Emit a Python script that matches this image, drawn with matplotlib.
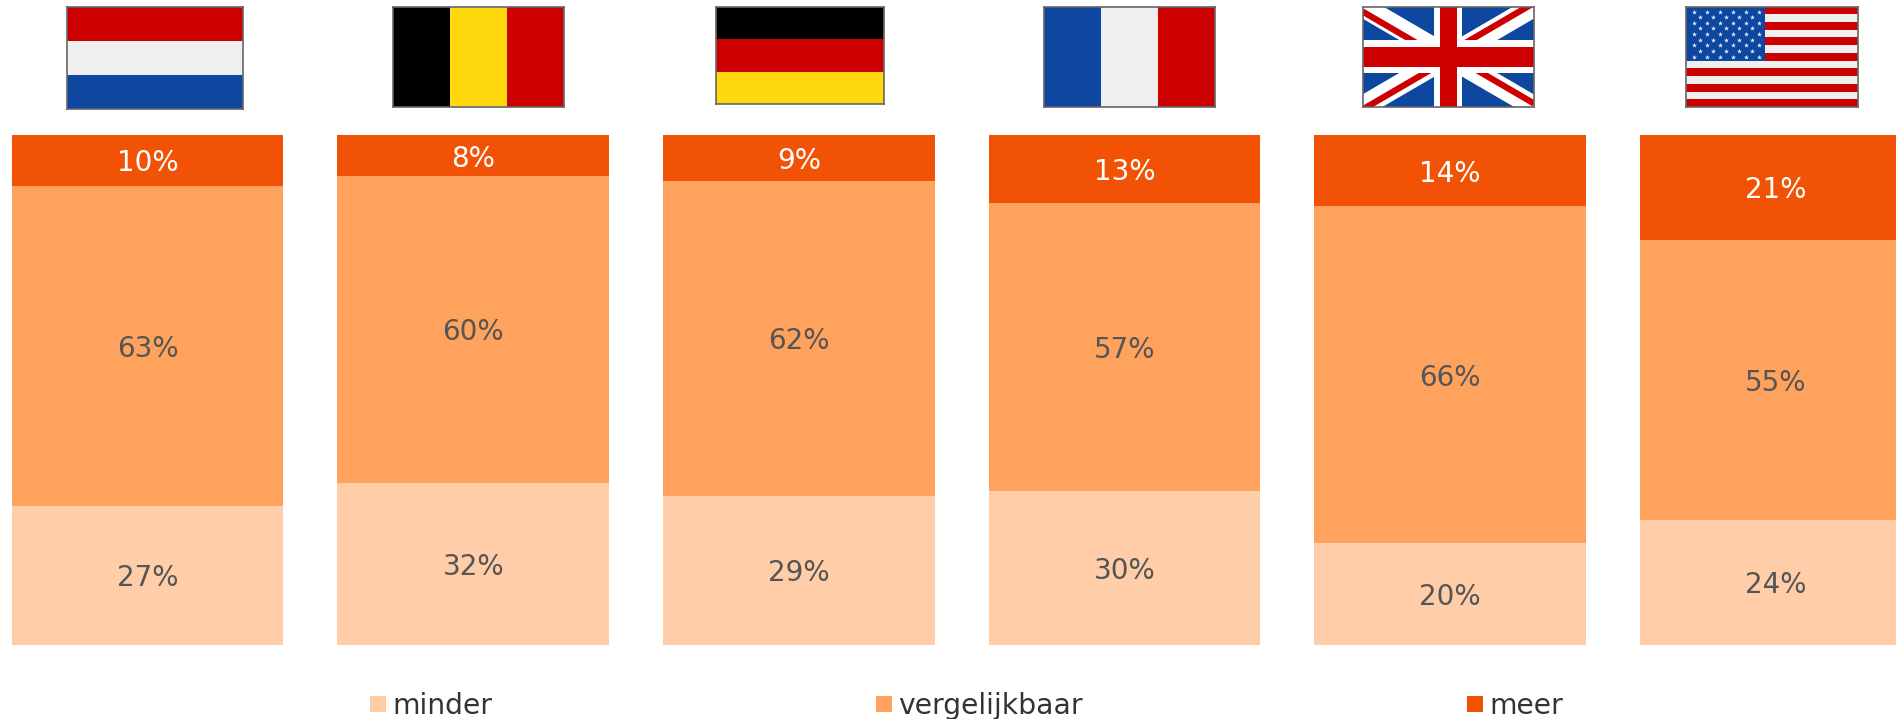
import matplotlib
matplotlib.use('Agg')
from matplotlib import pyplot as plt
from matplotlib.patches import Rectangle

# chart data (labels show them rounded)
countries = ['NL', 'BE', 'DE', 'FR', 'UK', 'US']
minder = [27.25, 31.75, 29.15, 30.1, 19.9, 24.4]
vergelijkbaar = [62.8, 60.2, 61.85, 56.63, 66.1, 55.0]
meer = [9.95, 8.05, 9.0, 13.27, 14.0, 20.6]
series_names = ['minder', 'vergelijkbaar', 'meer']

W, H = 1896, 719
LIGHT, MID, DARK = '#FFCDA8', '#FFA25E', '#F25205'
RED, WHITE, BLUE, YELLOW, BLACK = '#CC0000', '#EFEFEF', '#0E47A0', '#FFD80E', '#000000'


def px_axes(fig, x0, y0, x1, y1):
    # axes from pixel box, y measured from top
    return fig.add_axes([x0 / W, 1 - y1 / H, (x1 - x0) / W, (y1 - y0) / H])


fig = plt.figure(figsize=(W / 100, H / 100), dpi=100, facecolor='white')

# bars
ax = px_axes(fig, 0, 135, W, 644.5)
pitch = 325.6
ax.set_xlim(-147.6 / pitch, (W - 147.6) / pitch)
ax.set_ylim(0, 100)
ax.axis('off')

pos = range(len(countries))
bottoms2 = [a + b for a, b in zip(minder, vergelijkbaar)]
width = 271.5 / pitch
ax.bar(pos, minder, width, color=LIGHT)
ax.bar(pos, vergelijkbaar, width, bottom=minder, color=MID)
ax.bar(pos, meer, width, bottom=bottoms2, color=DARK)

for i in pos:
    for val, bot, col in [(minder[i], 0, '#555555'),
                          (vergelijkbaar[i], minder[i], '#555555'),
                          (meer[i], bottoms2[i], 'white')]:
        ax.annotate('%d%%' % round(val), (i, bot + val / 2.), xytext=(0, -3), textcoords='offset pixels',
                    ha='center', va='center', color=col, fontsize=20,
                    family='DejaVu Sans', annotation_clip=False)


# flags
def stripes(a, colors, vertical=False):
    n = len(colors)
    for k, c in enumerate(colors):
        if vertical:
            a.add_patch(Rectangle((k / n, 0), 1. / n, 1, color=c, lw=0))
        else:
            a.add_patch(Rectangle((0, k / n), 1, 1. / n, color=c, lw=0))


def union_jack(a):
    a.add_patch(Rectangle((0, 0), 1, 1, color=BLUE, lw=0))
    for xs, ys in [((0, 1), (0, 1)), ((0, 1), (1, 0))]:
        a.plot(xs, ys, color='white', lw=15, solid_capstyle='butt', zorder=1)
    # red diagonals, shifted off centre
    for xs, ys in [((0, .5), (.05, .55)), ((1, .5), (-.035, .465)),
                   ((0, .5), (1.03, .53)), ((1, .5), (.97, .47))]:
        a.plot(xs, ys, color=RED, lw=4.5, solid_capstyle='butt', zorder=1)
    a.add_patch(Rectangle((.418, 0), .164, 1, color='white', lw=0))
    a.add_patch(Rectangle((0, .335), 1, .33, color='white', lw=0))
    a.add_patch(Rectangle((.45, 0), .10, 1, color=RED, lw=0))
    a.add_patch(Rectangle((0, .40), 1, .20, color=RED, lw=0))


def stars_and_stripes(a):
    stripes(a, [RED if k % 2 == 0 else WHITE for k in range(13)])
    a.add_patch(Rectangle((0, 0), .463, 7 / 13., color=BLUE, lw=0))
    sx, sy = [], []
    for row in range(9):
        n = 6 if row % 2 == 0 else 5
        for c in range(n):
            sx.append(.047 + .0755 * c + (0 if row % 2 == 0 else .038))
            sy.append(.05 + .05625 * row)
    a.scatter(sx, sy, marker='*', s=14, color='#E4ECF8', lw=0)


flag_boxes = {'NL': (66.5, 6.5, 243, 109), 'BE': (392.5, 6.5, 564, 107), 'DE': (716, 6.5, 883.5, 104),
              'FR': (1043.5, 6.5, 1215, 106.5), 'UK': (1362.5, 6.5, 1534, 106.5), 'US': (1685.5, 6.5, 1857.5, 107)}

for c in countries:
    fa = px_axes(fig, *flag_boxes[c])
    fa.set_xlim(0, 1)
    fa.set_ylim(1, 0)
    fa.set_xticks([])
    fa.set_yticks([])
    if c == 'NL':
        stripes(fa, [RED, WHITE, BLUE])
    elif c == 'BE':
        stripes(fa, [BLACK, YELLOW, RED], vertical=True)
    elif c == 'DE':
        stripes(fa, [BLACK, RED, YELLOW])
    elif c == 'FR':
        stripes(fa, [BLUE, WHITE, RED], vertical=True)
    elif c == 'UK':
        union_jack(fa)
    else:
        stars_and_stripes(fa)
    for s in fa.spines.values():
        s.set_color('#666666')
        s.set_linewidth(1.2)

# legend, spread out under the bars
lg = fig.add_axes([0, 0, 1, 1], zorder=-1)
lg.set_xlim(0, W)
lg.set_ylim(H, 0)
lg.axis('off')
for name, col, x in zip(series_names, [LIGHT, MID, DARK], [370, 876, 1467.5]):
    lg.add_patch(Rectangle((x, 696), 16, 16, color=col, lw=0))
    lg.text(x + 22, 705.5, name, color='#333333', fontsize=20.3, va='center', ha='left',
            family='DejaVu Sans')

fig.savefig('out.png', dpi=100)
